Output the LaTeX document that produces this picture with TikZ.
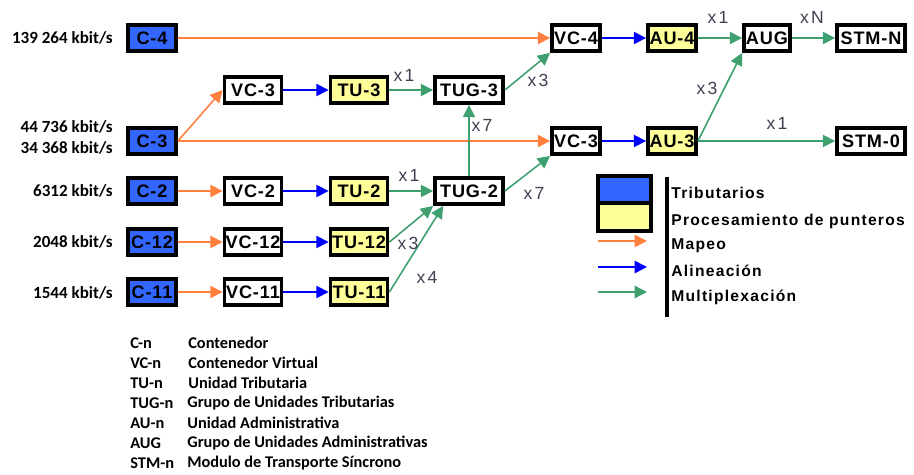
\documentclass[tikz,border=0pt]{standalone}
\usepackage{fontspec}
\setmainfont{Liberation Sans}
\newfontfamily\boxfont[LetterSpace=5]{Liberation Sans}
\newfontfamily\multfont[LetterSpace=12]{Liberation Sans}
\newfontfamily\legfont[LetterSpace=8]{Liberation Sans}
\newfontfamily\calfont{Carlito}
\usetikzlibrary{arrows.meta}

\definecolor{tribBlue}{HTML}{3366FF}
\definecolor{ptrYellow}{HTML}{FFFF99}
\definecolor{mapOrange}{HTML}{FF7F3F}
\definecolor{alinBlue}{HTML}{0000FF}
\definecolor{muxGreen}{HTML}{3DA06E}
\definecolor{multGray}{HTML}{3F3F50}

\tikzset{
    blk/.style={draw=black, line width=2.2pt, inner sep=0pt, minimum height=0.52cm,
        font=\boxfont\fontsize{10.3}{12}\selectfont\bfseries},
    trib/.style={blk, fill=tribBlue},
    ptr/.style={blk, fill=ptrYellow},
    plain/.style={blk, fill=white},
    tip/.style={-{Triangle[length=7pt,width=7pt]}},
    mapeo/.style={draw=mapOrange, line width=0.9pt, tip},
    alin/.style={draw=alinBlue, line width=0.9pt, tip},
    mux/.style={draw=muxGreen, line width=0.9pt, tip},
    mult/.style={text=multGray, inner sep=1pt, font=\multfont\fontsize{10}{12}\selectfont},
    rate/.style={anchor=east, inner sep=0pt, font=\calfont\fontsize{9.7}{11}\selectfont\bfseries},
    leg/.style={anchor=west, inner sep=0pt, font=\legfont\fontsize{8.9}{10}\selectfont\bfseries},
    gloss/.style={anchor=west, inner sep=0pt, font=\calfont\fontsize{9.3}{11}\selectfont\bfseries}
}

\begin{document}
\begin{tikzpicture}[x=0.02cm, y=-0.02cm]
    \useasboundingbox (0,0) rectangle (914,475);

    % tributarios
    \node[trib, minimum width=0.96cm] (c4) at (152,38) {C-4};
    \node[trib, minimum width=0.96cm] (c3) at (152,141) {C-3};
    \node[trib, minimum width=0.96cm] (c2) at (152,191) {C-2};
    \node[trib, minimum width=0.96cm] (c12) at (152,242) {C-12};
    \node[trib, minimum width=0.96cm] (c11) at (152,292) {C-11};

    \node[rate] (r4) at (113,38) {139 264 kbit/s};
    \node[rate] (r3a) at (113,127) {44 736 kbit/s};
    \node[rate] (r3b) at (113,148) {34 368 kbit/s};
    \node[rate] (r2) at (113,191) {6312 kbit/s};
    \node[rate] (r12) at (113,242) {2048 kbit/s};
    \node[rate] (r11) at (113,293) {1544 kbit/s};

    % contenedores virtuales y unidades tributarias
    \node[plain, minimum width=1.14cm] (vc3a) at (253,90) {VC-3};
    \node[plain, minimum width=1.14cm] (vc2) at (253,191) {VC-2};
    \node[plain, minimum width=1.14cm] (vc12) at (253,242) {VC-12};
    \node[plain, minimum width=1.14cm] (vc11) at (253,292) {VC-11};
    \node[ptr, minimum width=1.14cm] (tu3) at (359,90) {TU-3};
    \node[ptr, minimum width=1.14cm] (tu2) at (359,191) {TU-2};
    \node[ptr, minimum width=1.14cm] (tu12) at (359,242) {TU-12};
    \node[ptr, minimum width=1.14cm] (tu11) at (359,292) {TU-11};
    \node[plain, minimum width=1.36cm] (tug3) at (469,90) {TUG-3};
    \node[plain, minimum width=1.36cm] (tug2) at (469,191) {TUG-2};

    % orden superior
    \node[plain, minimum width=0.96cm] (vc4) at (576,38) {VC-4};
    \node[plain, minimum width=0.96cm] (vc3b) at (576,141) {VC-3};
    \node[ptr, minimum width=0.96cm] (au4) at (672,38) {AU-4};
    \node[ptr, minimum width=0.96cm] (au3) at (672,141) {AU-3};
    \node[plain, minimum width=0.92cm] (aug) at (767,38) {AUG};
    \node[plain, minimum width=1.36cm] (stmn) at (871,38) {STM-N};
    \node[plain, minimum width=1.36cm] (stm0) at (871,141) {STM-0};

    % mapeo
    \draw[mapeo] (c4.east) -- (vc4.west);
    \draw[mapeo] (c3.east) -- (vc3a.west);
    \draw[mapeo] (c3.east) -- (vc3b.west);
    \draw[mapeo] (c2) -- (vc2);
    \draw[mapeo] (c12) -- (vc12);
    \draw[mapeo] (c11) -- (vc11);

    % alineacion
    \draw[alin] (vc3a) -- (tu3);
    \draw[alin] (vc2) -- (tu2);
    \draw[alin] (vc12) -- (tu12);
    \draw[alin] (vc11) -- (tu11);
    \draw[alin] (vc4) -- (au4);
    \draw[alin] (vc3b) -- (au3);

    % multiplexacion
    \draw[mux] (tu3) -- (tug3);
    \draw[mux] (tu2) -- (tug2);
    \draw[mux] (tu12.east) -- (tug2.south west);
    \draw[mux] (tu11.east) -- (tug2.-150);
    \draw[mux] (tug2.north) -- (tug3.south);
    \draw[mux] (tug3.east) -- (vc4.south west);
    \draw[mux] (tug2.east) -- (vc3b.south west);
    \draw[mux] (au4) -- (aug);
    \draw[mux] (au3.east) -- (aug.south west);
    \draw[mux] (aug) -- (stmn);
    \draw[mux] (au3) -- (stm0);

    \node[mult] (m1) at (404,75) {x1};
    \node[mult] (m2) at (409,175) {x1};
    \node[mult] (m3) at (408,243) {x3};
    \node[mult] (m4) at (427,277) {x4};
    \node[mult] (m5) at (482,125) {x7};
    \node[mult] (m6) at (538,80) {x3};
    \node[mult] (m7) at (534,193) {x7};
    \node[mult] (m8) at (718,17) {x1};
    \node[mult] (m9) at (812,17) {xN};
    \node[mult] (m10) at (707,88) {x3};
    \node[mult] (m11) at (777,123) {x1};

    % leyenda
    \filldraw[fill=tribBlue, line width=2.2pt] (598,176) rectangle (651,203);
    \filldraw[fill=ptrYellow, line width=2.2pt] (598,203) rectangle (651,231);
    \draw[mapeo] (598,241) -- (647,241);
    \draw[alin] (598,267) -- (647,267);
    \draw[mux] (598,292) -- (647,292);
    \draw[black, line width=2.4pt] (667,177) -- (667,317);

    \node[leg] (l1) at (671,193) {Tributarios};
    \node[leg] (l2) at (671,221) {Procesamiento de punteros};
    \node[leg] (l3) at (671,246) {Mapeo};
    \node[leg] (l4) at (671,271) {Alineación};
    \node[leg] (l5) at (671,297) {Multiplexación};

    % glosario
    \node[gloss] (g1) at (130,343) {C-n};
    \node[gloss] (g2) at (130,363) {VC-n};
    \node[gloss] (g3) at (130,383) {TU-n};
    \node[gloss] (g4) at (130,403) {TUG-n};
    \node[gloss] (g5) at (130,423) {AU-n};
    \node[gloss] (g6) at (130,443) {AUG};
    \node[gloss] (g7) at (130,463) {STM-n};
    \node[gloss] (d1) at (188,343) {Contenedor};
    \node[gloss] (d2) at (188,363) {Contenedor Virtual};
    \node[gloss] (d3) at (188,383) {Unidad Tributaria};
    \node[gloss] (d4) at (187,403) {Grupo de Unidades Tributarias};
    \node[gloss] (d5) at (187,423) {Unidad Administrativa};
    \node[gloss] (d6) at (187,443) {Grupo de Unidades Administrativas};
    \node[gloss] (d7) at (187,463) {Modulo de Transporte Síncrono};
\end{tikzpicture}
\end{document}
